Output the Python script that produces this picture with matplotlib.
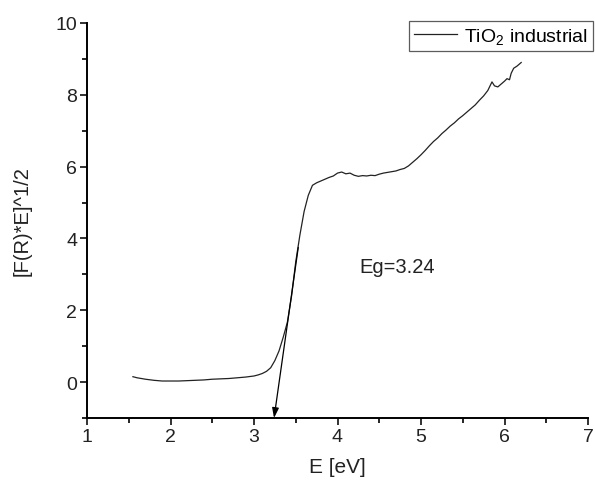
import matplotlib
matplotlib.use("Agg")
import matplotlib.pyplot as plt
from matplotlib.ticker import MultipleLocator

plt.rcParams["font.family"] = ["Liberation Sans", "DejaVu Sans"]
plt.rcParams["mathtext.fontset"] = "custom"
plt.rcParams["mathtext.rm"] = "Liberation Sans"
plt.rcParams["mathtext.it"] = "Liberation Sans"

# photon energy (eV) and Tauc value
energy = [1.55, 1.6, 1.7, 1.8, 1.9, 2.0, 2.1, 2.2, 2.3, 2.4, 2.5, 2.6, 2.7,
          2.8, 2.9, 3.0, 3.05, 3.1, 3.15, 3.2, 3.25, 3.3, 3.35, 3.4, 3.45,
          3.5, 3.55, 3.6, 3.65, 3.7, 3.75, 3.8, 3.85, 3.9, 3.95, 4.0, 4.05,
          4.1, 4.15, 4.2, 4.25, 4.3, 4.35, 4.4, 4.45, 4.5, 4.55, 4.6, 4.65,
          4.7, 4.75, 4.8, 4.85, 4.9, 4.95, 5.0, 5.05, 5.1, 5.15, 5.2, 5.25,
          5.3, 5.35, 5.4, 5.45, 5.5, 5.55, 5.6, 5.65, 5.7, 5.75, 5.8, 5.85,
          5.88, 5.92, 5.96, 6.0, 6.03, 6.06, 6.08, 6.11, 6.15, 6.2]
tauc = [0.15, 0.12, 0.08, 0.05, 0.03, 0.03, 0.03, 0.04, 0.05, 0.06, 0.08,
        0.09, 0.10, 0.12, 0.14, 0.17, 0.20, 0.24, 0.30, 0.40, 0.60, 0.87,
        1.25, 1.67, 2.40, 3.35, 4.10, 4.75, 5.20, 5.48, 5.55, 5.60, 5.65,
        5.70, 5.74, 5.82, 5.85, 5.80, 5.82, 5.76, 5.73, 5.75, 5.74, 5.76,
        5.75, 5.79, 5.82, 5.84, 5.86, 5.88, 5.92, 5.95, 6.02, 6.12, 6.22,
        6.33, 6.45, 6.58, 6.70, 6.80, 6.92, 7.02, 7.13, 7.22, 7.33, 7.42,
        7.52, 7.62, 7.72, 7.85, 7.97, 8.12, 8.36, 8.25, 8.22, 8.30, 8.38,
        8.45, 8.42, 8.60, 8.74, 8.80, 8.90]

# tangent arrow down to the band gap
tangent_start = (3.53, 3.75)
eg_value = 3.24

fig = plt.figure(figsize=(5.95, 4.81), dpi=100)
ax = fig.add_axes([87 / 595, 1 - 419 / 481, 501 / 595, 395 / 481])

ax.plot(energy, tauc, color="#222222", lw=0.9, label="TiO$_2$ industrial")
ax.annotate("", xy=(eg_value, -1), xytext=tangent_start,
            arrowprops=dict(arrowstyle="-|>,head_length=0.6,head_width=0.2",
                            color="black", lw=0.9, shrinkA=0, shrinkB=0))
ax.text(4.26, 3.23, f"Eg={eg_value}", fontsize=14.5, va="center",
        color="#222222")

ax.set_xlim(1, 7)
ax.set_ylim(-1, 10)
ax.xaxis.set_major_locator(MultipleLocator(1))
ax.xaxis.set_minor_locator(MultipleLocator(0.5))
ax.yaxis.set_major_locator(MultipleLocator(2))
ax.yaxis.set_minor_locator(MultipleLocator(1))
ax.set_yticks([0, 2, 4, 6, 8, 10])

for side in ["top", "right"]:
    ax.spines[side].set_visible(False)
for side in ["left", "bottom"]:
    ax.spines[side].set_linewidth(1.4)
ax.tick_params(which="major", direction="out", length=5, width=1.3,
               labelsize=14, pad=2, colors="#222222")
ax.tick_params(which="minor", direction="out", length=3.5, width=1.2)

ax.set_xlabel("E [eV]", fontsize=15, color="#222222")
ax.set_ylabel("[F(R)*E]^1/2", fontsize=14.5, color="#222222")
ax.xaxis.set_label_coords(0.5, -0.1)
ax.yaxis.set_label_coords(-0.11, 0.5)

leg = ax.legend(loc="upper left", bbox_to_anchor=(409 / 595, 1 - 22 / 481),
                bbox_transform=fig.transFigure, fontsize=14, frameon=True,
                fancybox=False, borderpad=0.25, handlelength=2.2,
                handletextpad=0.4, borderaxespad=0)
leg.get_frame().set_edgecolor("#333333")
leg.get_frame().set_linewidth(0.9)

fig.savefig("out.png", dpi=100, facecolor="white")
